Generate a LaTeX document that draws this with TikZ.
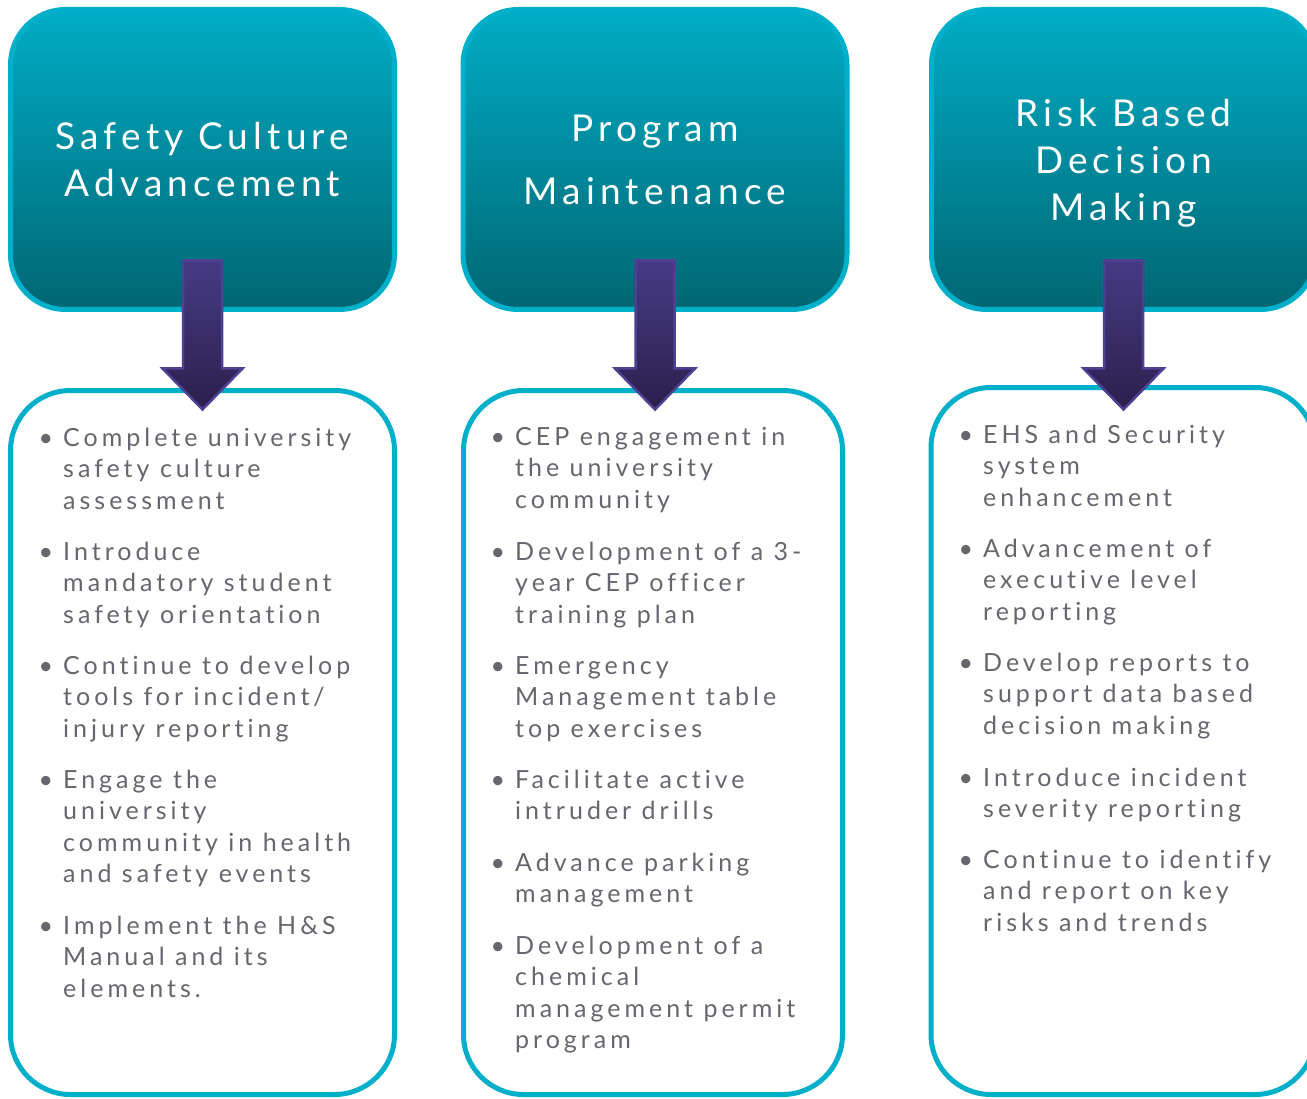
\documentclass[tikz,border=0pt]{standalone}
\usepackage{fontspec}
\setmainfont{Lato}[LetterSpace=14, Ligatures=NoCommon]
\usetikzlibrary{positioning}

\definecolor{rimcyan}{HTML}{00B0CA}
\definecolor{headtop}{HTML}{00ADC6}
\definecolor{headmid}{HTML}{008FA3}
\definecolor{headbot}{HTML}{006673}
\definecolor{arrtop}{HTML}{463B84}
\definecolor{arrbot}{HTML}{2B1F4C}
\definecolor{arrrim}{HTML}{4E4094}
\definecolor{bodytext}{HTML}{66666E}

\newcommand\itemdot{\llap{\textbullet\hspace{10pt}}}

\tikzset{
  headbox/.style={draw=rimcyan, line width=5pt, rounded corners=55pt,
    top color=headtop, middle color=headmid, bottom color=headbot,
    minimum width=384pt, minimum height=300pt, inner sep=0pt,
    text=white, align=center, text depth=0pt,
    font=\fontsize{37}{47}\selectfont},
  listbox/.style={draw=rimcyan, line width=5pt, rounded corners=60pt,
    fill=white, minimum width=384pt, minimum height=704pt},
  % anchored on the baseline of the last line
  point/.style={anchor=base west, align=left, inner sep=0pt,
    text=bodytext, font=\fontsize{25}{31.5}\selectfont\addfontfeature{LetterSpace=16}},
  downarrow/.style={draw=arrrim, line width=2.5pt, line join=miter,
    top color=arrtop, bottom color=arrbot},
}

\begin{document}
\begin{tikzpicture}[x=1pt, y=-1pt]
\useasboundingbox (0,0) rectangle (1307,1099);

% three headings
\node[headbox] (sca) at (202.5,159.5) {Safety Culture\\Advancement};
\node[headbox] (pm) at (655,159.5) {Program\\[16pt]Maintenance};
\node[headbox] (rbdm) at (1123.5,159.5) {Risk Based\\Decision\\Making};

% boxes holding the goals
\node[listbox] (sca-list) at (202.5,742.5) {};
\node[listbox, minimum width=379pt] (pm-list) at (653,742.5) {};
\node[listbox, minimum height=707pt] (rbdm-list) at (1123,741) {};

% block arrows, heading down to list
\foreach \c in {sca,pm,rbdm}
  \draw[downarrow] (\c.south) ++(-19.5,-51.5) -- ++(39,0) -- ++(0,108)
    -- ++(20.5,0) -- ++(-40,41) -- ++(-40,-41) -- ++(20.5,0) -- cycle;

% Safety Culture Advancement
\node[point] (sca-1) at (63,509) {\itemdot Complete university\\safety culture\\assessment};
\node[point] (sca-2) at (63,623) {\itemdot Introduce\\mandatory student\\safety orientation};
\node[point] (sca-3) at (63,737) {\itemdot Continue to develop\\tools for incident/\\injury reporting};
\node[point] (sca-4) at (63,882.5) {\itemdot Engage the\\university\\community in health\\and safety events};
\node[point] (sca-5) at (63,997) {\itemdot Implement the H\&S\\Manual and its\\elements.};

% Program Maintenance
\node[point] (pm-1) at (515,508) {\itemdot CEP engagement in\\the university\\community};
\node[point] (pm-2) at (515,623) {\itemdot Development of a 3-\\year CEP officer\\training plan};
\node[point] (pm-3) at (515,737) {\itemdot Emergency\\Management table\\top exercises};
\node[point] (pm-4) at (515,819.5) {\itemdot Facilitate active\\intruder drills};
\node[point] (pm-5) at (515,902.5) {\itemdot Advance parking\\management};
\node[point] (pm-6) at (515,1048.5) {\itemdot Development of a\\chemical\\management permit\\program};

% Risk Based Decision Making
\node[point] (rbdm-1) at (983,506) {\itemdot EHS and Security\\system\\enhancement};
\node[point] (rbdm-2) at (983,620) {\itemdot Advancement of\\executive level\\reporting};
\node[point] (rbdm-3) at (983,734) {\itemdot Develop reports to\\support data based\\decision making};
\node[point] (rbdm-4) at (983,817.5) {\itemdot Introduce incident\\severity reporting};
\node[point] (rbdm-5) at (983,931) {\itemdot Continue to identify\\and report on key\\risks and trends};

\end{tikzpicture}
\end{document}
